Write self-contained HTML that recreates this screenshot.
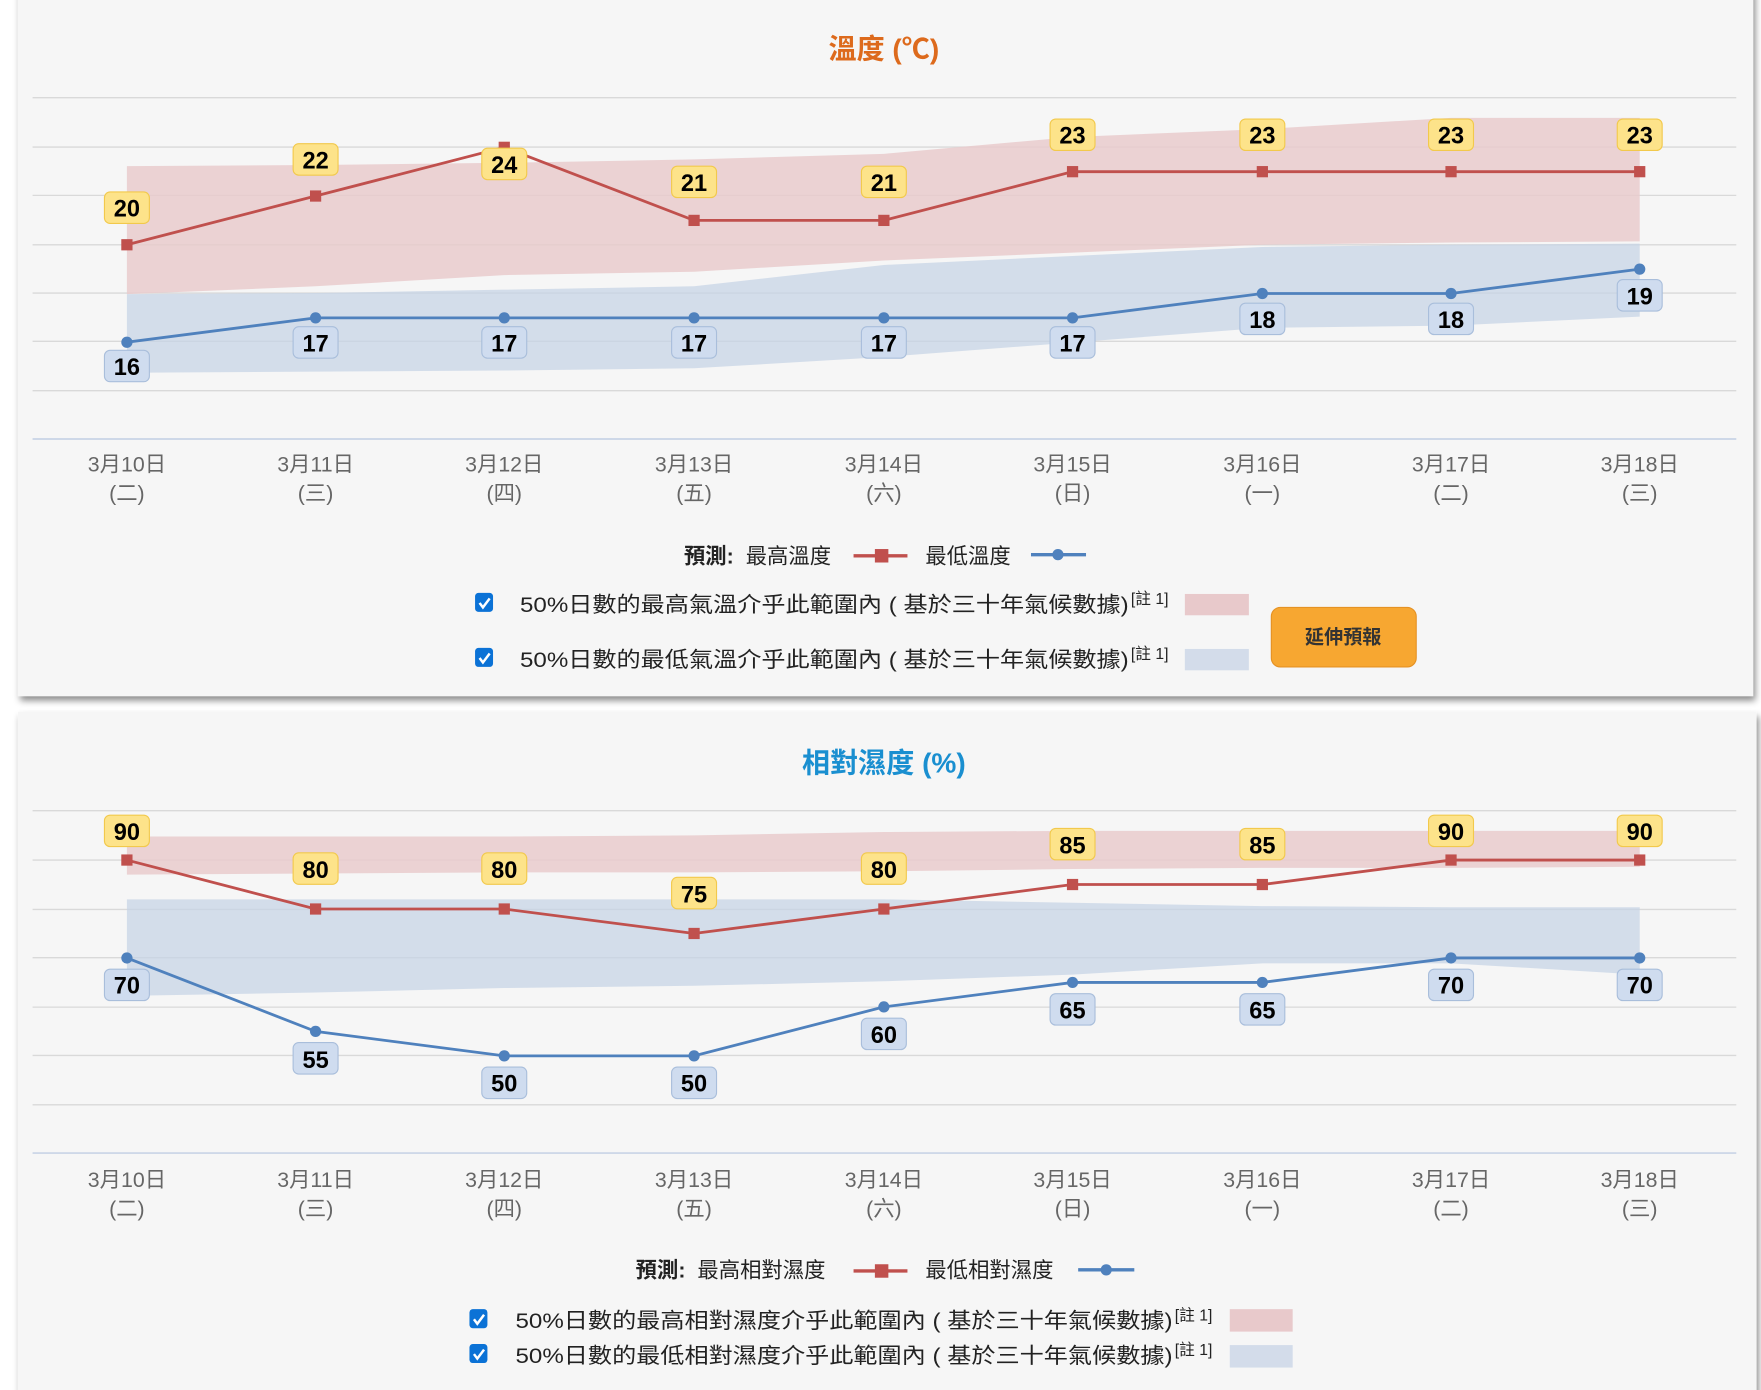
<!DOCTYPE html>
<html><head><meta charset="utf-8"><style>
html,body{margin:0;padding:0;background:#fff;}
svg{display:block;}
text{font-family:"Liberation Sans","Noto Sans CJK TC",sans-serif;}
</style></head><body>
<svg width="1761" height="1390" viewBox="0 0 1568 1238" preserveAspectRatio="none" xmlns="http://www.w3.org/2000/svg">
<defs>
<filter id="sh" x="-5%" y="-5%" width="110%" height="115%"><feDropShadow dx="2" dy="4" stdDeviation="3" flood-color="#000" flood-opacity="0.45"/></filter>
</defs>
<rect x="16" y="-10" width="1545" height="630" fill="#f6f6f6" filter="url(#sh)"/>
<rect x="16" y="634" width="1548" height="620" fill="#f6f6f6" filter="url(#sh)"/>

<!-- TEMPERATURE -->
<text x="787" y="52" text-anchor="middle" font-size="25" font-weight="bold" fill="#dd6a1c">溫度 (℃)</text>
<g stroke="#d9d9d9" stroke-width="1.2">
<line x1="29" x2="1546" y1="87" y2="87"/><line x1="29" x2="1546" y1="131" y2="131"/><line x1="29" x2="1546" y1="174" y2="174"/><line x1="29" x2="1546" y1="218" y2="218"/><line x1="29" x2="1546" y1="261" y2="261"/><line x1="29" x2="1546" y1="304" y2="304"/><line x1="29" x2="1546" y1="348" y2="348"/>
</g>
<line x1="29" x2="1546" y1="391" y2="391" stroke="#c8d4e6" stroke-width="1.5"/>
<polygon fill="#e8c9cb" fill-opacity="0.8" points="113,148 281,147 449,145 618,142 787,137 955,122 1124,115 1292,105 1460,105 1460,215 1292,216 1124,218 955,225 787,232 618,242 449,245 281,255 113,262"/>
<polygon fill="#c5d3e6" fill-opacity="0.7" points="113,262 281,261 449,258 618,255 787,236 955,228 1124,220 1292,218 1460,217 1460,282 1292,290 1124,292 955,305 787,318 618,328 449,330 281,331 113,332"/>
<polyline fill="none" stroke="#c0504d" stroke-width="2.5" points="113,218 281,174.6 449,131.2 618,196.3 787,196.3 955,152.9 1124,152.9 1292,152.9 1460,152.9"/>
<g fill="#c0504d"><rect x="108" y="213" width="10" height="10"/><rect x="276" y="169.6" width="10" height="10"/><rect x="444" y="126.2" width="10" height="10"/><rect x="613" y="191.3" width="10" height="10"/><rect x="782" y="191.3" width="10" height="10"/><rect x="950" y="147.9" width="10" height="10"/><rect x="1119" y="147.9" width="10" height="10"/><rect x="1287" y="147.9" width="10" height="10"/><rect x="1455" y="147.9" width="10" height="10"/></g>
<polyline fill="none" stroke="#4f81bd" stroke-width="2.5" points="113,304.8 281,283.1 449,283.1 618,283.1 787,283.1 955,283.1 1124,261.4 1292,261.4 1460,239.7"/>
<g fill="#4f81bd"><circle cx="113" cy="304.8" r="5"/><circle cx="281" cy="283.1" r="5"/><circle cx="449" cy="283.1" r="5"/><circle cx="618" cy="283.1" r="5"/><circle cx="787" cy="283.1" r="5"/><circle cx="955" cy="283.1" r="5"/><circle cx="1124" cy="261.4" r="5"/><circle cx="1292" cy="261.4" r="5"/><circle cx="1460" cy="239.7" r="5"/></g>
<g fill="#fde38a" stroke="#f2c94c" stroke-width="1">
<rect x="93" y="171" width="40" height="28" rx="5"/><rect x="261" y="128" width="40" height="28" rx="5"/><rect x="429" y="132" width="40" height="28" rx="5"/><rect x="598" y="148" width="40" height="28" rx="5"/><rect x="767" y="148" width="40" height="28" rx="5"/><rect x="935" y="106" width="40" height="28" rx="5"/><rect x="1104" y="106" width="40" height="28" rx="5"/><rect x="1272" y="106" width="40" height="28" rx="5"/><rect x="1440" y="106" width="40" height="28" rx="5"/>
</g>
<g fill="#cfdcef" stroke="#a9bedb" stroke-width="1">
<rect x="93" y="312" width="40" height="28" rx="5"/><rect x="261" y="291" width="40" height="28" rx="5"/><rect x="429" y="291" width="40" height="28" rx="5"/><rect x="598" y="291" width="40" height="28" rx="5"/><rect x="767" y="291" width="40" height="28" rx="5"/><rect x="935" y="291" width="40" height="28" rx="5"/><rect x="1104" y="270" width="40" height="28" rx="5"/><rect x="1272" y="270" width="40" height="28" rx="5"/><rect x="1440" y="249" width="40" height="28" rx="5"/>
</g>
<g font-size="21" font-weight="bold" fill="#000" text-anchor="middle">
<text x="113" y="193">20</text><text x="281" y="150">22</text><text x="449" y="154">24</text><text x="618" y="170">21</text><text x="787" y="170">21</text><text x="955" y="128">23</text><text x="1124" y="128">23</text><text x="1292" y="128">23</text><text x="1460" y="128">23</text>
<text x="113" y="334">16</text><text x="281" y="313">17</text><text x="449" y="313">17</text><text x="618" y="313">17</text><text x="787" y="313">17</text><text x="955" y="313">17</text><text x="1124" y="292">18</text><text x="1292" y="292">18</text><text x="1460" y="271">19</text>
</g>
<g font-size="19" fill="#666" text-anchor="middle">
<text x="113" y="420">3月10日</text><text x="281" y="420">3月11日</text><text x="449" y="420">3月12日</text><text x="618" y="420">3月13日</text><text x="787" y="420">3月14日</text><text x="955" y="420">3月15日</text><text x="1124" y="420">3月16日</text><text x="1292" y="420">3月17日</text><text x="1460" y="420">3月18日</text>
<text x="113" y="446">(二)</text><text x="281" y="446">(三)</text><text x="449" y="446">(四)</text><text x="618" y="446">(五)</text><text x="787" y="446">(六)</text><text x="955" y="446">(日)</text><text x="1124" y="446">(一)</text><text x="1292" y="446">(二)</text><text x="1460" y="446">(三)</text>
</g>
<text x="609" y="502" font-size="19" font-weight="bold" fill="#222">預測:</text>
<text x="664" y="502" font-size="19" fill="#222">最高溫度</text>
<line x1="760" x2="808" y1="495" y2="495" stroke="#c0504d" stroke-width="3"/><rect x="779" y="489" width="12" height="12" fill="#c0504d"/>
<text x="824" y="502" font-size="19" fill="#222">最低溫度</text>
<line x1="918" x2="967" y1="494" y2="494" stroke="#4f81bd" stroke-width="3"/><circle cx="942" cy="494" r="5" fill="#4f81bd"/>
<g>
<rect x="423" y="528" width="16" height="17" rx="3" fill="#0b72d6"/><path d="M427 537 l3 4 l6 -8" stroke="#fff" stroke-width="2.2" fill="none"/>
<text x="463" y="545" font-size="19" fill="#222" textLength="542" lengthAdjust="spacingAndGlyphs">50%日數的最高氣溫介乎此範圍內 ( 基於三十年氣候數據)</text>
<text x="1007" y="538" font-size="14" fill="#222">[註 1]</text>
<rect x="1055" y="529" width="57" height="19" fill="#e8c9cb"/>
<rect x="423" y="577" width="16" height="17" rx="3" fill="#0b72d6"/><path d="M427 586 l3 4 l6 -8" stroke="#fff" stroke-width="2.2" fill="none"/>
<text x="463" y="594" font-size="19" fill="#222" textLength="542" lengthAdjust="spacingAndGlyphs">50%日數的最低氣溫介乎此範圍內 ( 基於三十年氣候數據)</text>
<text x="1007" y="587" font-size="14" fill="#222">[註 1]</text>
<rect x="1055" y="578" width="57" height="19" fill="#d3dcea"/>
<rect x="1132" y="541" width="129" height="53" rx="8" fill="#f7a731" stroke="#e59224"/>
<text x="1196" y="573" text-anchor="middle" font-size="17" font-weight="bold" fill="#333">延伸預報</text>
</g>

<!-- HUMIDITY -->
<text x="787" y="688" text-anchor="middle" font-size="25" font-weight="bold" fill="#1a8fd0">相對濕度 (%)</text>
<g stroke="#d9d9d9" stroke-width="1.2">
<line x1="29" x2="1546" y1="722" y2="722"/><line x1="29" x2="1546" y1="766" y2="766"/><line x1="29" x2="1546" y1="810" y2="810"/><line x1="29" x2="1546" y1="853" y2="853"/><line x1="29" x2="1546" y1="897" y2="897"/><line x1="29" x2="1546" y1="940" y2="940"/><line x1="29" x2="1546" y1="984" y2="984"/>
</g>
<line x1="29" x2="1546" y1="1027" y2="1027" stroke="#c8d4e6" stroke-width="1.5"/>
<polygon fill="#e8c9cb" fill-opacity="0.8" points="113,745 281,745 449,745 618,744 787,741 955,740 1124,740 1292,740 1460,740 1460,772 1292,773 1124,773 955,774 787,776 618,777 449,777 281,778 113,779"/>
<polygon fill="#c5d3e6" fill-opacity="0.7" points="113,801 281,801 449,801 618,801 787,801 955,804 1124,807 1292,808 1460,808 1460,868 1292,858 1124,858 955,868 787,874 618,878 449,880 281,884 113,887"/>
<polyline fill="none" stroke="#c0504d" stroke-width="2.5" points="113,766 281,809.6 449,809.6 618,831.4 787,809.6 955,787.8 1124,787.8 1292,766 1460,766"/>
<g fill="#c0504d"><rect x="108" y="761" width="10" height="10"/><rect x="276" y="804.6" width="10" height="10"/><rect x="444" y="804.6" width="10" height="10"/><rect x="613" y="826.4" width="10" height="10"/><rect x="782" y="804.6" width="10" height="10"/><rect x="950" y="782.8" width="10" height="10"/><rect x="1119" y="782.8" width="10" height="10"/><rect x="1287" y="761" width="10" height="10"/><rect x="1455" y="761" width="10" height="10"/></g>
<polyline fill="none" stroke="#4f81bd" stroke-width="2.5" points="113,853.2 281,918.6 449,940.4 618,940.4 787,896.8 955,875 1124,875 1292,853.2 1460,853.2"/>
<g fill="#4f81bd"><circle cx="113" cy="853.2" r="5"/><circle cx="281" cy="918.6" r="5"/><circle cx="449" cy="940.4" r="5"/><circle cx="618" cy="940.4" r="5"/><circle cx="787" cy="896.8" r="5"/><circle cx="955" cy="875" r="5"/><circle cx="1124" cy="875" r="5"/><circle cx="1292" cy="853.2" r="5"/><circle cx="1460" cy="853.2" r="5"/></g>
<g fill="#fde38a" stroke="#f2c94c" stroke-width="1">
<rect x="93" y="726" width="40" height="28" rx="5"/><rect x="261" y="759.6" width="40" height="28" rx="5"/><rect x="429" y="759.6" width="40" height="28" rx="5"/><rect x="598" y="781.4" width="40" height="28" rx="5"/><rect x="767" y="759.6" width="40" height="28" rx="5"/><rect x="935" y="737.8" width="40" height="28" rx="5"/><rect x="1104" y="737.8" width="40" height="28" rx="5"/><rect x="1272" y="726" width="40" height="28" rx="5"/><rect x="1440" y="726" width="40" height="28" rx="5"/>
</g>
<g fill="#cfdcef" stroke="#a9bedb" stroke-width="1">
<rect x="93" y="863.2" width="40" height="28" rx="5"/><rect x="261" y="928.6" width="40" height="28" rx="5"/><rect x="429" y="950.4" width="40" height="28" rx="5"/><rect x="598" y="950.4" width="40" height="28" rx="5"/><rect x="767" y="906.8" width="40" height="28" rx="5"/><rect x="935" y="885" width="40" height="28" rx="5"/><rect x="1104" y="885" width="40" height="28" rx="5"/><rect x="1272" y="863.2" width="40" height="28" rx="5"/><rect x="1440" y="863.2" width="40" height="28" rx="5"/>
</g>
<g font-size="21" font-weight="bold" fill="#000" text-anchor="middle">
<text x="113" y="748">90</text><text x="281" y="782">80</text><text x="449" y="782">80</text><text x="618" y="804">75</text><text x="787" y="782">80</text><text x="955" y="760">85</text><text x="1124" y="760">85</text><text x="1292" y="748">90</text><text x="1460" y="748">90</text>
<text x="113" y="885">70</text><text x="281" y="951">55</text><text x="449" y="972">50</text><text x="618" y="972">50</text><text x="787" y="929">60</text><text x="955" y="907">65</text><text x="1124" y="907">65</text><text x="1292" y="885">70</text><text x="1460" y="885">70</text>
</g>
<g font-size="19" fill="#666" text-anchor="middle">
<text x="113" y="1057">3月10日</text><text x="281" y="1057">3月11日</text><text x="449" y="1057">3月12日</text><text x="618" y="1057">3月13日</text><text x="787" y="1057">3月14日</text><text x="955" y="1057">3月15日</text><text x="1124" y="1057">3月16日</text><text x="1292" y="1057">3月17日</text><text x="1460" y="1057">3月18日</text>
<text x="113" y="1083">(二)</text><text x="281" y="1083">(三)</text><text x="449" y="1083">(四)</text><text x="618" y="1083">(五)</text><text x="787" y="1083">(六)</text><text x="955" y="1083">(日)</text><text x="1124" y="1083">(一)</text><text x="1292" y="1083">(二)</text><text x="1460" y="1083">(三)</text>
</g>
<text x="566" y="1138" font-size="19" font-weight="bold" fill="#222">預測:</text>
<text x="621" y="1138" font-size="19" fill="#222">最高相對濕度</text>
<line x1="760" x2="808" y1="1132" y2="1132" stroke="#c0504d" stroke-width="3"/><rect x="779" y="1126" width="12" height="12" fill="#c0504d"/>
<text x="824" y="1138" font-size="19" fill="#222">最低相對濕度</text>
<line x1="960" x2="1010" y1="1131" y2="1131" stroke="#4f81bd" stroke-width="3"/><circle cx="985" cy="1131" r="5" fill="#4f81bd"/>
<rect x="418" y="1166" width="16" height="17" rx="3" fill="#0b72d6"/><path d="M422 1175 l3 4 l6 -8" stroke="#fff" stroke-width="2.2" fill="none"/>
<text x="459" y="1183" font-size="19" fill="#222" textLength="585" lengthAdjust="spacingAndGlyphs">50%日數的最高相對濕度介乎此範圍內 ( 基於三十年氣候數據)</text>
<text x="1046" y="1176" font-size="14" fill="#222">[註 1]</text>
<rect x="1095" y="1166" width="56" height="20" fill="#e8c9cb"/>
<rect x="418" y="1197" width="16" height="17" rx="3" fill="#0b72d6"/><path d="M422 1206 l3 4 l6 -8" stroke="#fff" stroke-width="2.2" fill="none"/>
<text x="459" y="1214" font-size="19" fill="#222" textLength="585" lengthAdjust="spacingAndGlyphs">50%日數的最低相對濕度介乎此範圍內 ( 基於三十年氣候數據)</text>
<text x="1046" y="1207" font-size="14" fill="#222">[註 1]</text>
<rect x="1095" y="1198" width="56" height="20" fill="#d3dcea"/>
</svg>
</body></html>
